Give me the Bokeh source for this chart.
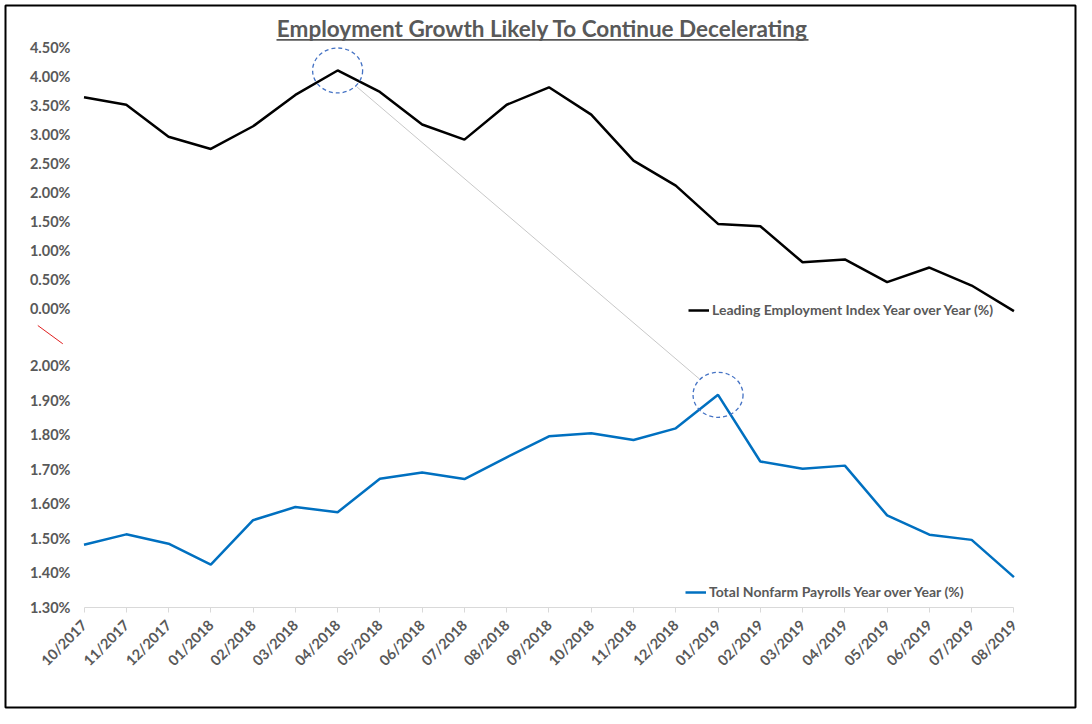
from bokeh.plotting import figure
from bokeh.models import (Range1d, FixedTicker, Legend, LegendItem, Label,
                          BoxAnnotation, Arrow)
from bokeh.embed import file_html
from bokeh.resources import INLINE

# ---------------- data ----------------
months = ["10/2017", "11/2017", "12/2017", "01/2018", "02/2018", "03/2018",
          "04/2018", "05/2018", "06/2018", "07/2018", "08/2018", "09/2018",
          "10/2018", "11/2018", "12/2018", "01/2019", "02/2019", "03/2019",
          "04/2019", "05/2019", "06/2019", "07/2019", "08/2019"]
lei_yoy = [3.64, 3.51, 2.96, 2.75, 3.14, 3.68, 4.10, 3.73, 3.17, 2.91, 3.51,
           3.81, 3.34, 2.55, 2.12, 1.46, 1.42, 0.80, 0.85, 0.46, 0.71, 0.40,
           -0.04]
nfp_yoy = [1.481, 1.511, 1.484, 1.423, 1.552, 1.590, 1.575, 1.672, 1.690,
           1.671, 1.734, 1.795, 1.804, 1.784, 1.818, 1.915, 1.722, 1.701,
           1.710, 1.566, 1.510, 1.495, 1.387]
lei_ticks = [0.0, 0.5, 1.0, 1.5, 2.0, 2.5, 3.0, 3.5, 4.0, 4.5]
nfp_ticks = [1.3, 1.4, 1.5, 1.6, 1.7, 1.8, 1.9, 2.0]
title_text = "Employment Growth Likely To Continue Decelerating"
lei_name = "Leading Employment Index Year over Year (%)"
nfp_name = "Total Nonfarm Payrolls Year over Year (%)"
lei_peak = 6    # index of highlighted LEI point
nfp_peak = 15   # index of highlighted NFP point

# ---------------- layout ----------------
W, H = 1080, 712
MB = 5                      # frame inset = border position
FRAME_W, FRAME_H = W - 2 * MB, H - 2 * MB
CAT0_PX = 78.5      # px from frame left to first category
CAT_PX = 42.27      # px per category
NFP_PX = 345.3      # px per percentage point (lower panel)
NFP_BASE = 100.3    # px above frame bottom for 1.30% (lower panel)
LEI_PX = 58.13      # px per percentage point (upper panel)
LEI_ZERO = 398.7    # px above frame bottom for 0% (upper panel)
GRAY = "#595959"
FONT = "Lato"

nfp_start = nfp_ticks[0] - NFP_BASE / NFP_PX
nfp_range = Range1d(nfp_start, nfp_start + FRAME_H / NFP_PX)
lei_range = Range1d(-LEI_ZERO / LEI_PX, (FRAME_H - LEI_ZERO) / LEI_PX)
x_range = Range1d(-CAT0_PX / CAT_PX, (FRAME_W - CAT0_PX) / CAT_PX)


def lei_to_nfp(v):
    return nfp_start + (LEI_ZERO + v * LEI_PX) / NFP_PX


p = figure(width=W, height=H, output_backend="svg", toolbar_location=None,
           x_range=x_range, y_range=nfp_range,
           min_border_left=MB, min_border_right=MB,
           min_border_top=MB, min_border_bottom=MB)
p.extra_y_ranges = {"lei": lei_range}
p.outline_line_color = "black"
p.outline_line_width = 2
p.background_fill_color = "white"
p.border_fill_color = "white"
p.xgrid.visible = False
p.ygrid.visible = False

# y axis: both panels' ticks on one axis, labels drawn just left of the data
y_pos = list(nfp_ticks) + [lei_to_nfp(t) for t in lei_ticks]
y_lab = [f"{t:.2f}%" for t in nfp_ticks] + [f"{t:.2f}%" for t in lei_ticks]
ya = p.yaxis[0]
ya.ticker = FixedTicker(ticks=y_pos)
ya.major_label_overrides = dict(zip(y_pos, y_lab))
ya.axis_line_color = None
ya.major_tick_line_color = None
ya.major_tick_out = 0
ya.major_tick_in = 0
ya.minor_tick_line_color = None
ya.major_label_standoff = -65
ya.major_label_text_font = FONT
ya.major_label_text_font_style = "bold"
ya.major_label_text_font_size = "14.5px"
ya.major_label_text_color = GRAY

xs = list(range(len(months)))
xa = p.xaxis[0]
xa.fixed_location = nfp_start + (NFP_BASE - 0.3) / NFP_PX
xa.ticker = FixedTicker(ticks=xs)
xa.bounds = (0, len(months) - 1)
xa.major_label_overrides = {i: m for i, m in zip(xs, months)}
xa.axis_line_color = "#d9d9d9"
xa.major_tick_line_color = "#d9d9d9"
xa.major_tick_out = 5
xa.major_tick_in = 0
xa.minor_tick_line_color = None
xa.major_label_orientation = 0.785398
xa.major_label_standoff = 10
xa.major_label_text_font = FONT
xa.major_label_text_font_style = "bold"
xa.major_label_text_font_size = "14.5px"
xa.major_label_text_color = GRAY

# connector between the highlighted points
x0, y0 = lei_peak, lei_to_nfp(lei_yoy[lei_peak])
x1, y1 = nfp_peak, nfp_yoy[nfp_peak]
f0, f1 = 0.05, 0.95
p.segment(x0=[x0 + f0 * (x1 - x0)], y0=[y0 + f0 * (y1 - y0)],
          x1=[x0 + f1 * (x1 - x0)], y1=[y0 + f1 * (y1 - y0)],
          line_color="#c8c8c8", line_width=1)

r_lei = p.line(xs, lei_yoy, y_range_name="lei", line_color="black",
               line_width=2.5)
r_nfp = p.line(xs, nfp_yoy, line_color="#0070C0", line_width=2.5)

p.ellipse(x=[lei_peak], y=[lei_yoy[lei_peak]], width=50, height=45,
          width_units="screen", height_units="screen", y_range_name="lei",
          fill_color=None, line_color="#4472C4", line_width=1.3,
          line_dash="4 3")
p.ellipse(x=[nfp_peak], y=[nfp_yoy[nfp_peak]], width=50, height=45,
          width_units="screen", height_units="screen",
          fill_color=None, line_color="#4472C4", line_width=1.3,
          line_dash="4 3")


def make_legend(renderer, name, loc):
    return Legend(items=[LegendItem(label=name, renderers=[renderer])],
                  location=loc, padding=0, margin=0, spacing=0,
                  glyph_width=21, glyph_height=14, label_height=14,
                  label_standoff=3, label_text_font=FONT,
                  label_text_font_style="bold",
                  label_text_font_size="14px", label_text_color=GRAY,
                  border_line_color=None, background_fill_alpha=0)


p.add_layout(make_legend(r_lei, lei_name, (683, 389)))
p.add_layout(make_legend(r_nfp, nfp_name, (680, 107)))

# title with underline
p.add_layout(Label(x=537, y=679, x_units="screen", y_units="screen",
                   text=title_text, text_align="center",
                   text_baseline="middle", text_font=FONT,
                   text_font_style="bold", text_font_size="22.5px",
                   text_color=GRAY))
p.add_layout(BoxAnnotation(left=271, right=803, bottom=666.8, top=668.5,
                           left_units="screen", right_units="screen",
                           bottom_units="screen", top_units="screen",
                           fill_color=GRAY, fill_alpha=1, line_color=None))

# axis-break mark
p.add_layout(Arrow(start=None, end=None, x_start=32.3, y_start=382,
                   x_end=57.3, y_end=363.7, start_units="screen",
                   end_units="screen", line_color="#e02020", line_width=1))

open("out.html", "w").write(file_html(p, INLINE))
